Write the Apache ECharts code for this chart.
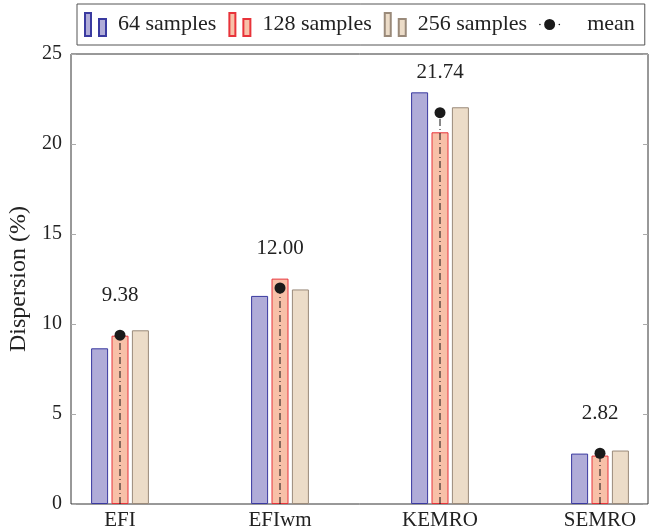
<!DOCTYPE html>
<html>
<head>
<meta charset="utf-8">
<script src="https://cdn.jsdelivr.net/npm/echarts@6/dist/echarts.min.js"></script>
<style>
  html, body { margin: 0; padding: 0; background: #fff; }
  #chart { width: 656px; height: 529px; }
</style>
</head>
<body>
<div id="chart"></div>
<script>
// Dispersion per method and sample count
const methods = ['EFI', 'EFIwm', 'KEMRO', 'SEMRO'];
const samples64 = [8.65, 11.56, 22.87, 2.80];
const samples128 = [9.35, 12.52, 20.65, 2.69];
const samples256 = [9.65, 11.92, 22.04, 2.97];
const means = [9.38, 12.00, 21.74, 2.82];
const yTicks = [0, 5, 10, 15, 20, 25];

const FONT = 'Liberation Serif';
const chart = echarts.init(document.getElementById('chart'));

// two-bar legend glyph (like a grouped bar icon)
const barIcon = 'path://M0,0 H6 V23 H0 Z M14,6 H21 V23 H14 Z';
// dot-marker legend glyph with small line dots on either side
const meanIcon = 'path://M0,11.5 a0.8,0.8 0 1,0 1.6,0 a0.8,0.8 0 1,0 -1.6,0 Z ' +
  'M5,11.5 a5.5,5.5 0 1,0 11,0 a5.5,5.5 0 1,0 -11,0 Z ' +
  'M19.4,11.5 a0.8,0.8 0 1,0 1.6,0 a0.8,0.8 0 1,0 -1.6,0 Z';

function barSeries(name, data, fill, stroke) {
  return {
    name: name,
    type: 'bar',
    xAxisIndex: 1,
    yAxisIndex: 2,
    data: data,
    barWidth: 17,
    barGap: '20%',
    itemStyle: { color: fill, borderColor: stroke, borderWidth: 1 }
  };
}

chart.setOption({
  animation: false,
  textStyle: { fontFamily: FONT },
  legend: {
    left: 77,
    top: 4,
    padding: [8, 10, 8, 7],
    borderColor: '#555',
    borderWidth: 1,
    itemWidth: 21,
    itemHeight: 23,
    itemGap: 12,
    textStyle: { fontFamily: FONT, fontSize: 22, color: '#222', padding: [0, 0, 0, 7] },
    data: [
      { name: '64 samples', icon: barIcon },
      { name: '128 samples', icon: barIcon },
      { name: '256 samples', icon: barIcon, textStyle: { padding: [0, 9, 0, 7] } },
      { name: 'mean', icon: meanIcon, itemStyle: { color: '#1a1a1a' },
        textStyle: { padding: [0, 0, 0, 22] } }
    ]
  },
  grid: [
    // frame with the value axes
    { left: 71, right: 8, top: 54, bottom: 25, outerBoundsMode: 'none', containLabel: false,
      show: true, borderColor: '#333', borderWidth: 1, backgroundColor: 'transparent' },
    // bar area: four 160px category bands
    { left: 40, right: -24, top: 54, bottom: 25, outerBoundsMode: 'none', containLabel: false }
  ],
  xAxis: [
    { gridIndex: 0, type: 'value', min: 0, max: 1, show: false },
    {
      gridIndex: 1, type: 'category', data: methods,
      axisLine: { show: false }, axisTick: { show: false },
      axisLabel: { fontFamily: FONT, fontSize: 21, color: '#222', margin: 6 }
    }
  ],
  yAxis: [
    {
      gridIndex: 0, type: 'value', min: 0, max: 25, interval: 5,
      name: 'Dispersion (%)', nameLocation: 'middle', nameGap: 37,
      nameTextStyle: { fontFamily: FONT, fontSize: 24, color: '#222' },
      axisLine: { show: false },
      axisTick: { show: true, inside: true, length: 5, lineStyle: { color: '#aaa' } },
      axisLabel: { fontFamily: FONT, fontSize: 20, color: '#222', margin: 9,
        formatter: v => yTicks.includes(v) ? String(v) : '' },
      splitLine: { show: false }
    },
    {
      gridIndex: 0, type: 'value', min: 0, max: 25, interval: 5, position: 'right',
      axisLine: { show: false },
      axisTick: { show: true, inside: true, length: 5, lineStyle: { color: '#aaa' } },
      axisLabel: { show: false },
      splitLine: { show: false }
    },
    { gridIndex: 1, type: 'value', min: 0, max: 25, show: false }
  ],
  series: [
    barSeries('64 samples', samples64, '#b0acd8', '#3a3aa0'),
    barSeries('128 samples', samples128, '#f8c0a8', '#e8333a'),
    barSeries('256 samples', samples256, '#ecdcc8', '#9a8a7a'),
    {
      // dash-dot drop line from the axis to each mean
      type: 'custom',
      xAxisIndex: 1,
      yAxisIndex: 2,
      data: means.map((m, i) => [i, m]),
      silent: true,
      z: 5,
      renderItem: function (params, api) {
        const p0 = api.coord([api.value(0), 0]);
        const p1 = api.coord([api.value(0), api.value(1)]);
        return {
          type: 'line',
          shape: { x1: p0[0], y1: p0[1], x2: p1[0], y2: p1[1] },
          style: { stroke: '#111', lineWidth: 1, lineDash: [7, 3, 1, 3] }
        };
      }
    },
    {
      name: 'mean',
      type: 'line',
      xAxisIndex: 1,
      yAxisIndex: 2,
      data: means,
      z: 6,
      symbol: 'circle',
      symbolSize: 11,
      itemStyle: { color: '#1a1a1a' },
      lineStyle: { opacity: 0 },
      label: {
        show: true, position: 'top', distance: 24,
        fontFamily: FONT, fontSize: 21, color: '#222',
        formatter: p => p.value.toFixed(2)
      }
    }
  ]
});
</script>
</body>
</html>
